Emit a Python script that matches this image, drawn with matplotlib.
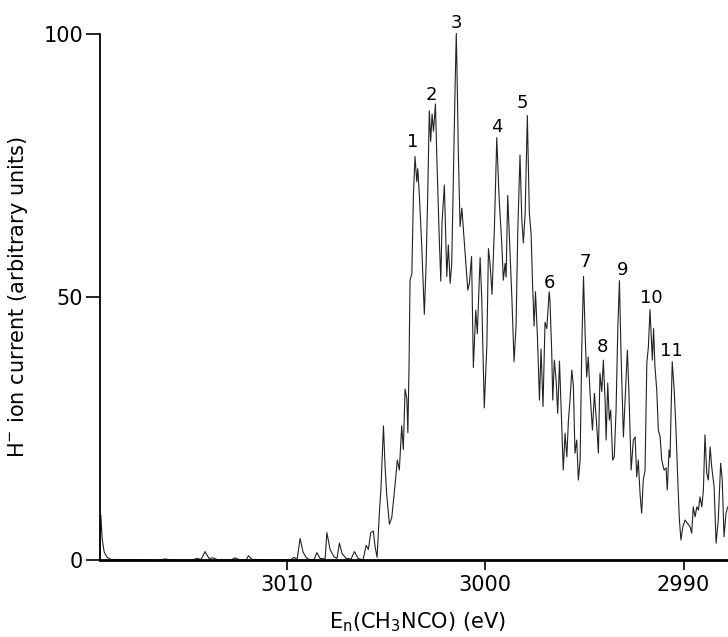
import matplotlib
matplotlib.use("Agg")
import matplotlib.pyplot as plt

# H- ion current vs neutral energy
energy = [
    3019.40, 3019.36, 3019.29, 3019.19, 3019.04, 3018.84,
    3016.37, 3016.12, 3015.87,
    3014.76, 3014.51, 3014.31, 3014.11, 3013.91, 3013.70, 3013.45,
    3012.80, 3012.60, 3012.35, 3012.04, 3011.92, 3011.74,
    3009.82, 3009.62, 3009.47, 3009.32, 3009.17, 3009.02, 3008.82,
    3008.61, 3008.48, 3008.31, 3008.06, 3007.97, 3007.81, 3007.61, 3007.46,
    3007.34, 3007.20, 3007.00, 3006.75, 3006.58, 3006.40, 3006.15,
    3005.99, 3005.88, 3005.76, 3005.63, 3005.54, 3005.44,
    3005.32, 3005.25, 3005.12, 3005.04, 3004.96, 3004.82, 3004.70, 3004.53,
    3004.42, 3004.32, 3004.20, 3004.12, 3004.03, 3003.94, 3003.89, 3003.83,
    3003.78, 3003.69, 3003.61, 3003.53, 3003.44, 3003.39, 3003.31, 3003.19,
    3003.06, 3002.97, 3002.89, 3002.81, 3002.74, 3002.67, 3002.60, 3002.50,
    3002.43, 3002.30, 3002.23, 3002.17, 3002.05, 3001.93, 3001.85, 3001.76,
    3001.68, 3001.61, 3001.51, 3001.45, 3001.40, 3001.35, 3001.26, 3001.17,
    3001.09, 3001.01, 3000.87, 3000.79, 3000.68, 3000.59, 3000.47, 3000.39,
    3000.25, 3000.17, 3000.04, 2999.91, 2999.83, 2999.75, 2999.65, 2999.53,
    2999.41, 2999.29, 2999.16, 2999.08, 2998.99, 2998.94, 2998.86, 2998.74,
    2998.65, 2998.54, 2998.44, 2998.35, 2998.24, 2998.15, 2998.07, 2997.98,
    2997.87, 2997.77, 2997.68, 2997.61, 2997.53, 2997.46, 2997.36, 2997.26,
    2997.18, 2997.08, 2996.98, 2996.89, 2996.77, 2996.73, 2996.64, 2996.59,
    2996.51, 2996.42, 2996.34, 2996.25, 2996.16, 2996.06, 2995.97, 2995.88,
    2995.80, 2995.72, 2995.63, 2995.55, 2995.47, 2995.38, 2995.30, 2995.21,
    2995.13, 2995.04, 2994.96, 2994.88, 2994.80, 2994.71, 2994.59, 2994.49,
    2994.37, 2994.29, 2994.21, 2994.12, 2994.04, 2993.95, 2993.90, 2993.82,
    2993.74, 2993.67, 2993.57, 2993.49, 2993.40, 2993.31, 2993.23, 2993.15,
    2993.03, 2992.90, 2992.83, 2992.75, 2992.64, 2992.53, 2992.44, 2992.36,
    2992.28, 2992.19, 2992.11, 2992.03, 2991.94, 2991.85, 2991.77, 2991.69,
    2991.57, 2991.51, 2991.44, 2991.35, 2991.27, 2991.18, 2991.10, 2990.98,
    2990.88, 2990.82, 2990.73, 2990.68, 2990.57, 2990.47, 2990.38, 2990.29,
    2990.21, 2990.13, 2990.04, 2989.92, 2989.81, 2989.67, 2989.59, 2989.51,
    2989.42, 2989.33, 2989.25, 2989.17, 2989.08, 2989.00, 2988.92, 2988.83,
    2988.75, 2988.66, 2988.58, 2988.46, 2988.36, 2988.25, 2988.13, 2988.05,
    2987.96, 2987.86, 2987.77,
]
current = [
    0.0, 8.5, 4.0, 1.5, 0.5, 0.1,
    0.0, 0.2, 0.0,
    0.0, 0.3, 0.1, 1.6, 0.3, 0.4, 0.0,
    0.0, 0.4, 0.0, 0.0, 0.8, 0.1,
    0.0, 0.5, 0.1, 4.1, 1.5, 0.5, 0.0,
    0.1, 1.4, 0.3, 0.2, 5.2, 2.0, 0.6, 0.3,
    3.2, 1.2, 0.3, 0.2, 1.6, 0.3, 0.0,
    2.8, 2.0, 5.2, 5.5, 2.5, 0.5,
    9.4, 13.2, 25.5, 18.0, 12.6, 6.8, 8.1, 14.5,
    19.0, 17.1, 25.5, 21.0, 32.5, 30.6, 24.2, 37.1,
    53.2, 54.4, 69.3, 76.7, 71.9, 74.4, 69.3, 59.6,
    46.7, 56.4, 69.3, 85.4, 79.6, 84.8, 81.5, 86.7,
    76.4, 60.3, 53.0, 64.1, 71.3, 53.9, 59.9, 52.6,
    56.3, 70.0, 90.0, 100.1, 90.0, 78.0, 63.4, 66.9,
    62.7, 58.3, 51.3, 52.6, 57.7, 36.6, 47.5, 43.0,
    57.5, 50.0, 28.9, 40.8, 59.2, 56.4, 50.5, 63.1,
    80.3, 68.6, 60.3, 53.2, 56.4, 53.8, 69.3, 58.4,
    49.9, 37.7, 44.4, 62.8, 77.0, 64.8, 60.3, 66.0,
    84.5, 66.0, 62.0, 52.7, 44.5, 51.0, 42.3, 30.4,
    40.1, 29.2, 45.2, 44.0, 51.0, 49.4, 39.3, 30.4,
    38.0, 34.2, 27.9, 37.8, 28.0, 17.1, 24.1, 19.6,
    26.6, 30.4, 36.1, 33.0, 20.3, 22.8, 15.2, 19.0,
    39.9, 53.9, 43.1, 34.8, 38.6, 31.7, 24.7, 31.7,
    25.3, 20.3, 35.5, 32.0, 38.0, 30.0, 22.8, 33.6,
    26.6, 28.5, 19.0, 19.6, 28.5, 44.4, 53.1, 39.3,
    23.4, 34.2, 39.9, 31.7, 17.1, 22.8, 23.4, 15.8,
    19.0, 12.5, 8.9, 15.2, 17.0, 37.4, 40.6, 47.6,
    38.0, 44.0, 36.8, 32.3, 24.7, 23.4, 19.0, 17.1,
    17.5, 13.3, 20.9, 19.5, 37.7, 32.3, 24.7, 15.2,
    7.6, 3.8, 6.3, 7.6, 7.0, 6.3, 5.1, 10.1,
    8.2, 10.1, 9.5, 12.0, 10.1, 13.3, 23.8, 16.5,
    15.2, 21.5, 17.7, 13.9, 3.2, 7.6, 18.4, 15.2,
    4.4, 8.9, 10.1,
]

# numbered peak labels
peak_names = ['1', '2', '3', '4', '5', '6', '7', '8', '9', '10', '11']
peak_e = [3003.64, 3002.72, 3001.46, 2999.41, 2998.14, 2996.78,
          2994.96, 2994.09, 2993.08, 2991.60, 2990.59]
peak_i = [79.5, 88.4, 102.0, 82.4, 86.9, 52.7, 56.7, 40.4, 55.1, 49.8, 39.8]

xticks = [3010, 3000, 2990]
yticks = [0, 50, 100]

plt.rcParams['font.family'] = ['DejaVu Sans']

fig = plt.figure(figsize=(7.28, 6.37), dpi=100)
ax = fig.add_axes([0.1374, 0.1209, 0.8626, 0.8257])

ax.plot(energy, current, color='#222222', lw=0.8, clip_on=False)

for name, e, i in zip(peak_names, peak_e, peak_i):
    ax.text(e, i, name, fontsize=13, ha='center', va='center')

ax.set_xlim(3019.40, 2987.76)
ax.set_ylim(0, 100)
ax.set_xticks(xticks)
ax.set_yticks(yticks)
ax.tick_params(axis='x', direction='out', length=7, width=1.2, pad=4, labelsize=15)
ax.tick_params(axis='y', direction='out', length=10, width=1.2, pad=2, labelsize=15)

ax.spines['top'].set_visible(False)
ax.spines['right'].set_visible(False)
ax.spines['left'].set_linewidth(1.3)
ax.spines['bottom'].set_linewidth(2.0)

ax.set_xlabel(r'E$_\mathregular{n}$(CH$_\mathregular{3}$NCO) (eV)', fontsize=15)
ax.set_ylabel(r'H$^{\mathregular{-}}$ ion current (arbitrary units)', fontsize=15)
ax.xaxis.set_label_coords(0.505, -0.095)
ax.yaxis.set_label_coords(-0.112, 0.5)

fig.savefig('out.png', dpi=100)
